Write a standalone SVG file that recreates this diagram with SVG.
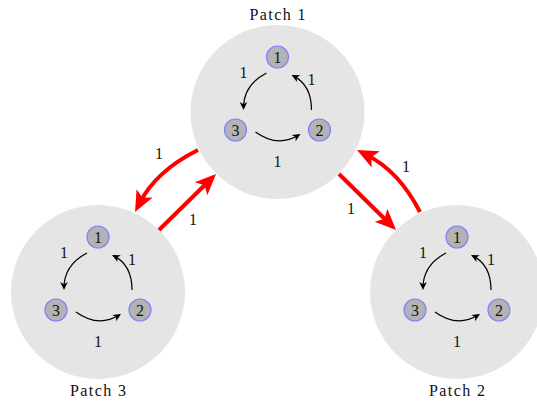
<svg xmlns="http://www.w3.org/2000/svg" width="537" height="405" viewBox="0 0 537 405">
<style>
.patch{fill:#e5e5e5}
.node{fill:#b3b3b3;stroke:#8080ff;stroke-width:1.2}
.t{font-family:"Liberation Serif","DejaVu Serif",serif;font-size:16px;fill:#111;text-anchor:middle}
.red{fill:none;stroke:#ff0000;stroke-width:4}
.blk{fill:none;stroke:#000;stroke-width:1.2}
</style>
<defs>
<marker id="redArrow" markerUnits="userSpaceOnUse" viewBox="-13 -10 24 20" refX="0" refY="0" markerWidth="24" markerHeight="20" orient="auto" overflow="visible">
<path d="M10,0 L-11,-9 L-6,0 L-11,9 Z" fill="#ff0000"/>
</marker>
<marker id="blkArrow" markerUnits="userSpaceOnUse" viewBox="-7 -5 10 10" refX="0" refY="0" markerWidth="10" markerHeight="10" orient="auto" overflow="visible">
<path d="M2,0 L-6,-3.8 L-3.8,0 L-6,3.8 Z" fill="#000"/>
</marker>
<g id="innerEdges">
<path class="blk" d="M-11,-39 Q-34,-27 -34,-4" marker-end="url(#blkArrow)"/>
<path class="blk" d="M34,-2 Q34,-27 15.8,-36.1" marker-end="url(#blkArrow)"/>
<path class="blk" d="M-22,20 Q0,36 21.3,23" marker-end="url(#blkArrow)"/>
<text class="t" x="-34" y="-34.5">1</text>
<text class="t" x="34" y="-27.5">1</text>
<text class="t" x="0" y="54.5">1</text>
</g>
</defs>

<g id="patches">
<g id="patch1"><circle class="patch" cx="277.5" cy="112" r="87"/><text class="t" x="277.5" y="20" textLength="56" lengthAdjust="spacing">Patch 1</text></g>
<g id="patch2"><circle class="patch" cx="457" cy="292" r="87"/><text class="t" x="457" y="396" textLength="56" lengthAdjust="spacing">Patch 2</text></g>
<g id="patch3"><circle class="patch" cx="98" cy="292" r="87"/><text class="t" x="98" y="396" textLength="56" lengthAdjust="spacing">Patch 3</text></g>
</g>

<g id="connectors">
<path class="red" d="M198,150 Q156,171 139.6,203.1" marker-end="url(#redArrow)"/>
<path class="red" d="M159,230 L208.9,181" marker-end="url(#redArrow)"/>
<path class="red" d="M339,174 L388.9,223" marker-end="url(#redArrow)"/>
<path class="red" d="M420,212 Q399,171 365.9,154.5" marker-end="url(#redArrow)"/>
<text class="t" x="159" y="158.5">1</text>
<text class="t" x="193" y="225">1</text>
<text class="t" x="351" y="213.5">1</text>
<text class="t" x="406" y="171.5">1</text>
<use href="#innerEdges" transform="translate(277.5,112)"/>
<use href="#innerEdges" transform="translate(457,292)"/>
<use href="#innerEdges" transform="translate(98,292)"/>
</g>

<g id="p1n1"><circle class="node" cx="277.5" cy="57" r="11"/><text class="t" x="277.5" y="62.5">1</text></g>
<g id="p1n2"><circle class="node" cx="319.5" cy="130" r="11"/><text class="t" x="319.5" y="135.5">2</text></g>
<g id="p1n3"><circle class="node" cx="235.5" cy="130" r="11"/><text class="t" x="235.5" y="135.5">3</text></g>
<g id="p2n1"><circle class="node" cx="457" cy="237" r="11"/><text class="t" x="457" y="242.5">1</text></g>
<g id="p2n2"><circle class="node" cx="499" cy="310" r="11"/><text class="t" x="499" y="315.5">2</text></g>
<g id="p2n3"><circle class="node" cx="415" cy="310" r="11"/><text class="t" x="415" y="315.5">3</text></g>
<g id="p3n1"><circle class="node" cx="98" cy="237" r="11"/><text class="t" x="98" y="242.5">1</text></g>
<g id="p3n2"><circle class="node" cx="140" cy="310" r="11"/><text class="t" x="140" y="315.5">2</text></g>
<g id="p3n3"><circle class="node" cx="56" cy="310" r="11"/><text class="t" x="56" y="315.5">3</text></g>
</svg>
